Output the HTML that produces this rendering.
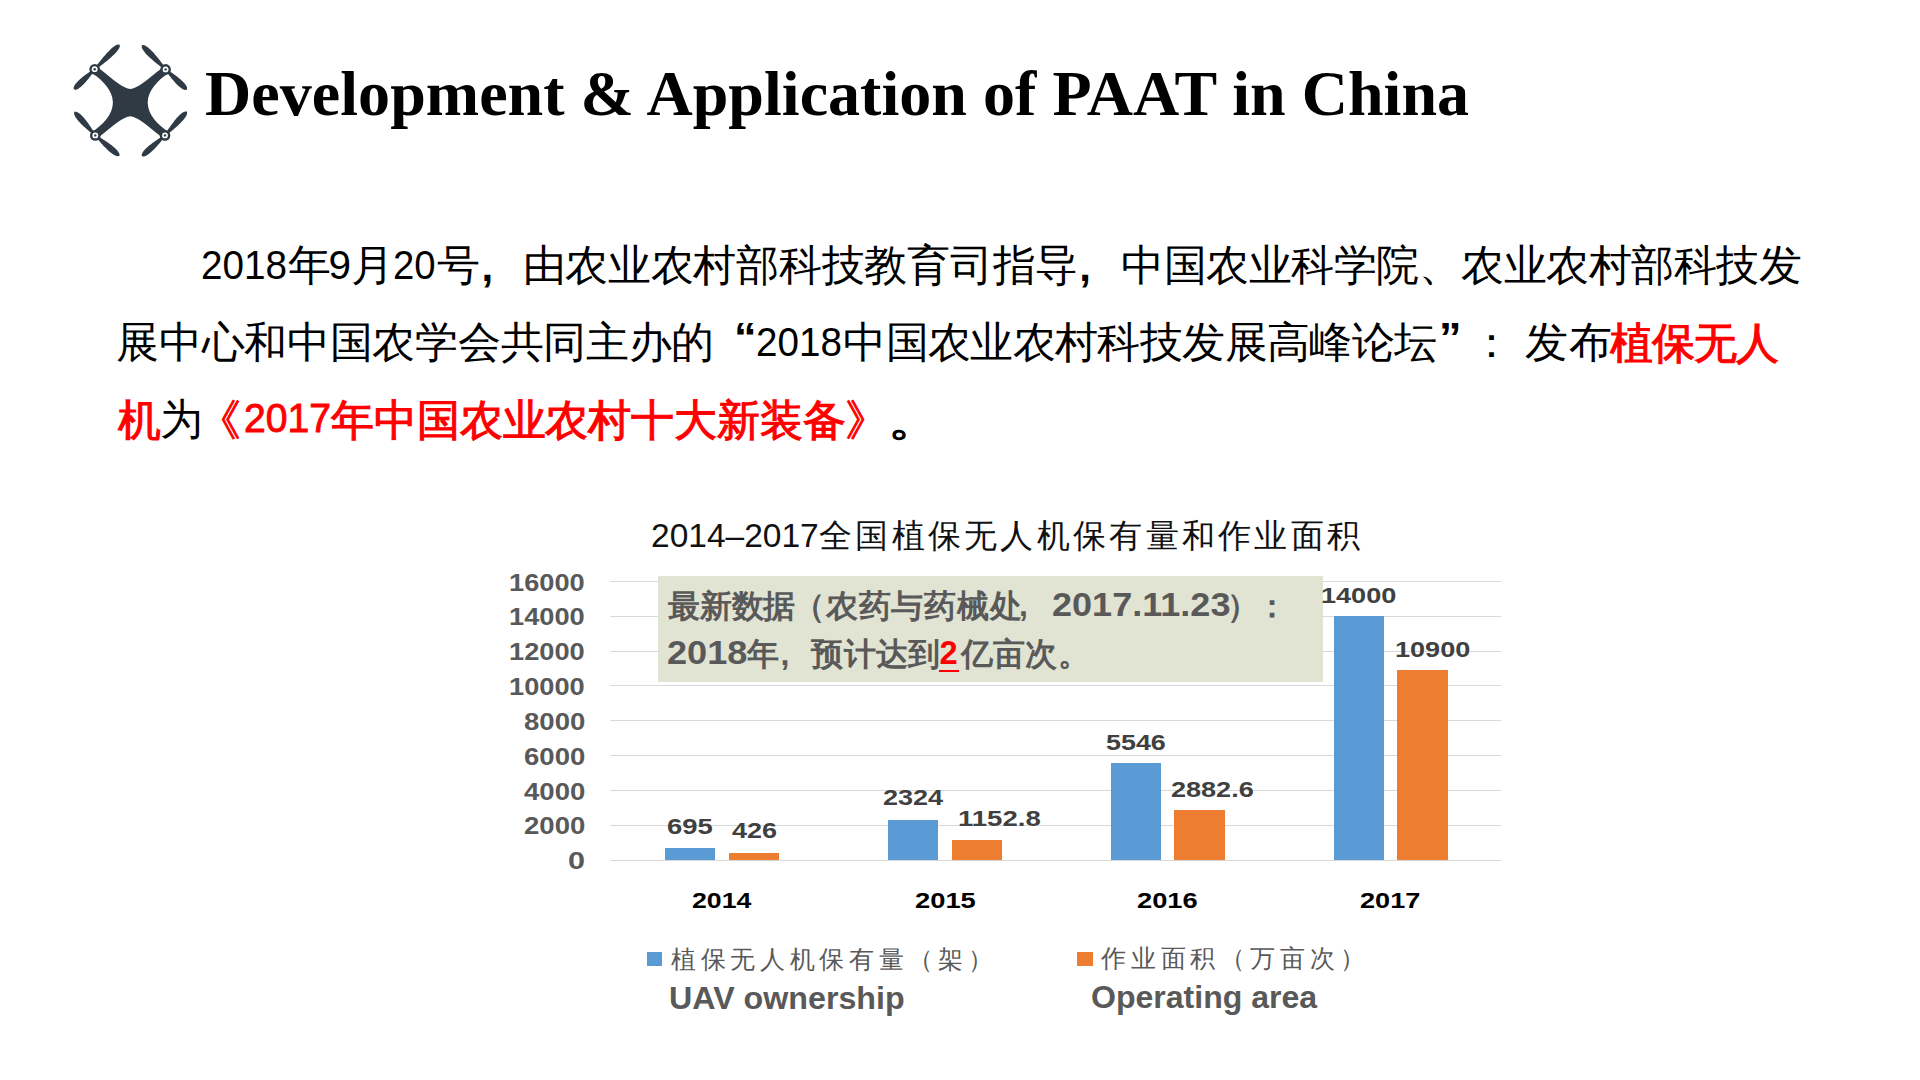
<!DOCTYPE html>
<html><head><meta charset="utf-8">
<style>
html,body{margin:0;padding:0;background:#fff;}
body{width:1920px;height:1080px;position:relative;overflow:hidden;font-family:"Liberation Sans",sans-serif;}
.a{position:absolute;white-space:nowrap;line-height:1;}
</style></head><body>
<svg style="position:absolute;left:0;top:0" width="200" height="170" viewBox="0 0 200 170">
<g fill="#2f3a44">
<path d="M94.70 69.20 L99.90 68.90 C113.00 79.40 124.00 88.90 130.30 88.90 C136.60 88.90 147.60 79.40 160.70 68.90 L165.60 69.40 L167.00 74.20 C158.60 80.00 147.70 90.00 147.70 102.60 C147.70 115.20 158.60 125.20 167.00 131.00 L165.00 135.40 L160.70 136.30 C147.60 125.80 136.60 116.30 130.30 116.30 C124.00 116.30 113.00 125.80 99.90 136.30 L95.30 135.40 L93.60 131.00 C102.00 125.20 112.90 115.20 112.90 102.60 C112.90 90.00 102.00 80.00 93.60 74.20 Z"/>
<path d="M95.4 69.9 96.3 69.1 97.3 68.3 98.3 67.5 99.3 66.7 100.3 66.0 101.3 65.2 102.3 64.4 103.3 63.7 104.3 62.9 105.3 62.1 106.3 61.4 107.3 60.6 108.2 59.8 109.2 59.0 110.1 58.2 111.1 57.3 112.0 56.5 112.9 55.6 113.8 54.8 114.7 53.9 115.6 53.0 116.4 52.1 117.2 51.1 118.0 50.1 118.7 49.0 119.3 47.9 119.8 46.6 119.7 44.7 119.7 44.7 117.8 44.5 116.5 45.0 115.4 45.6 114.3 46.3 113.3 47.1 112.3 47.8 111.3 48.6 110.4 49.5 109.5 50.4 108.6 51.3 107.7 52.2 106.9 53.1 106.1 54.0 105.2 54.9 104.4 55.9 103.6 56.8 102.8 57.8 102.0 58.8 101.2 59.7 100.4 60.7 99.6 61.7 98.8 62.7 98.0 63.7 97.2 64.7 96.5 65.6 95.7 66.6 94.8 67.6 94.0 68.5Z"/>
<path d="M94.0 68.5 93.2 69.1 92.4 69.8 91.5 70.4 90.7 71.0 89.9 71.6 89.0 72.3 88.2 72.9 87.3 73.5 86.5 74.1 85.6 74.7 84.8 75.3 84.0 76.0 83.1 76.6 82.3 77.3 81.5 77.9 80.7 78.6 80.0 79.3 79.2 80.0 78.4 80.7 77.7 81.4 77.0 82.2 76.3 82.9 75.6 83.8 75.0 84.6 74.5 85.5 74.0 86.5 73.6 87.6 73.9 89.4 73.9 89.4 75.7 89.7 76.8 89.4 77.8 88.9 78.7 88.4 79.6 87.8 80.4 87.2 81.2 86.5 82.0 85.8 82.7 85.1 83.5 84.4 84.2 83.6 84.9 82.9 85.6 82.1 86.3 81.3 86.9 80.5 87.6 79.7 88.3 78.9 88.9 78.1 89.6 77.3 90.2 76.5 90.8 75.6 91.5 74.8 92.1 74.0 92.8 73.1 93.4 72.3 94.0 71.5 94.7 70.7 95.4 69.9Z"/>
<path d="M166.3 68.7 165.5 67.8 164.8 66.8 164.0 65.9 163.3 64.9 162.5 64.0 161.8 63.0 161.0 62.0 160.3 61.1 159.6 60.1 158.8 59.1 158.1 58.2 157.3 57.2 156.5 56.3 155.8 55.4 155.0 54.4 154.2 53.5 153.4 52.6 152.6 51.7 151.7 50.9 150.9 50.0 150.0 49.2 149.1 48.4 148.2 47.6 147.2 46.9 146.1 46.2 145.0 45.6 143.8 45.1 141.9 45.3 141.9 45.3 141.7 47.2 142.2 48.4 142.7 49.5 143.4 50.6 144.1 51.6 144.9 52.5 145.6 53.5 146.5 54.4 147.3 55.2 148.2 56.1 149.0 56.9 149.9 57.7 150.8 58.5 151.7 59.3 152.6 60.1 153.6 60.9 154.5 61.7 155.4 62.5 156.4 63.2 157.3 64.0 158.3 64.7 159.3 65.5 160.2 66.2 161.2 67.0 162.1 67.7 163.1 68.5 164.0 69.3 164.9 70.1Z"/>
<path d="M164.9 70.1 165.6 70.9 166.3 71.7 167.0 72.5 167.6 73.4 168.3 74.2 168.9 75.0 169.6 75.9 170.3 76.7 170.9 77.5 171.6 78.4 172.2 79.2 172.9 80.0 173.6 80.8 174.3 81.6 175.0 82.4 175.7 83.2 176.4 83.9 177.2 84.7 177.9 85.4 178.7 86.1 179.5 86.8 180.3 87.5 181.1 88.1 182.0 88.7 183.0 89.2 184.0 89.7 185.1 90.0 186.9 89.7 186.9 89.7 187.2 87.9 186.8 86.8 186.3 85.8 185.7 84.9 185.1 84.0 184.4 83.2 183.7 82.4 183.0 81.7 182.2 80.9 181.4 80.2 180.6 79.5 179.8 78.8 179.0 78.2 178.2 77.5 177.4 76.8 176.5 76.2 175.7 75.6 174.8 74.9 174.0 74.3 173.1 73.7 172.3 73.1 171.4 72.5 170.5 71.9 169.7 71.2 168.8 70.6 167.9 70.0 167.1 69.3 166.3 68.7Z"/>
<path d="M96.0 134.7 95.4 133.8 94.7 132.9 94.1 132.0 93.4 131.1 92.8 130.1 92.1 129.2 91.5 128.2 90.9 127.3 90.2 126.3 89.6 125.4 89.0 124.5 88.3 123.5 87.6 122.6 87.0 121.7 86.3 120.8 85.6 119.9 84.9 119.1 84.2 118.2 83.4 117.3 82.7 116.5 81.9 115.7 81.1 114.9 80.3 114.1 79.4 113.4 78.4 112.8 77.4 112.2 76.2 111.7 74.4 111.8 74.4 111.8 74.0 113.6 74.4 114.8 74.9 115.9 75.4 116.9 76.0 117.9 76.7 118.8 77.3 119.7 78.1 120.6 78.8 121.4 79.6 122.3 80.3 123.1 81.1 123.9 81.9 124.7 82.7 125.5 83.5 126.3 84.4 127.0 85.2 127.8 86.1 128.5 86.9 129.3 87.8 130.0 88.6 130.8 89.5 131.5 90.4 132.3 91.2 133.0 92.1 133.7 92.9 134.5 93.7 135.3 94.6 136.1Z"/>
<path d="M94.7 136.2 95.5 137.0 96.2 137.8 97.0 138.6 97.8 139.4 98.6 140.3 99.3 141.1 100.1 142.0 100.8 142.8 101.6 143.7 102.4 144.5 103.1 145.4 103.9 146.2 104.7 147.0 105.5 147.8 106.3 148.6 107.1 149.4 108.0 150.2 108.8 150.9 109.6 151.7 110.5 152.4 111.4 153.1 112.3 153.8 113.3 154.4 114.2 155.0 115.3 155.5 116.4 156.0 117.6 156.3 119.4 155.9 119.4 155.9 119.5 154.1 119.0 152.9 118.4 151.9 117.7 151.0 116.9 150.1 116.2 149.2 115.4 148.4 114.5 147.7 113.7 147.0 112.8 146.2 111.9 145.5 111.0 144.8 110.1 144.2 109.2 143.5 108.3 142.8 107.3 142.2 106.4 141.5 105.4 140.9 104.5 140.3 103.5 139.7 102.6 139.1 101.6 138.4 100.7 137.8 99.7 137.2 98.7 136.6 97.8 136.0 96.9 135.3 95.9 134.6Z"/>
<path d="M165.7 136.1 166.6 135.3 167.4 134.5 168.3 133.7 169.2 133.0 170.1 132.2 171.0 131.5 171.9 130.7 172.8 130.0 173.7 129.2 174.6 128.5 175.4 127.7 176.3 126.9 177.2 126.2 178.0 125.4 178.9 124.6 179.7 123.8 180.5 122.9 181.3 122.1 182.1 121.3 182.9 120.4 183.7 119.5 184.4 118.6 185.1 117.7 185.7 116.7 186.3 115.7 186.8 114.6 187.2 113.3 186.9 111.5 186.9 111.5 185.0 111.4 183.9 111.9 182.8 112.5 181.8 113.1 180.9 113.9 180.0 114.6 179.2 115.4 178.4 116.2 177.6 117.1 176.8 118.0 176.1 118.8 175.3 119.7 174.6 120.6 173.9 121.5 173.2 122.5 172.5 123.4 171.8 124.3 171.1 125.3 170.4 126.2 169.7 127.2 169.1 128.1 168.4 129.1 167.7 130.0 167.0 131.0 166.4 131.9 165.7 132.9 165.0 133.8 164.3 134.7Z"/>
<path d="M164.3 134.7 163.5 135.3 162.6 136.0 161.6 136.6 160.7 137.3 159.8 137.9 158.9 138.5 157.9 139.2 157.0 139.8 156.1 140.4 155.2 141.1 154.3 141.7 153.3 142.4 152.4 143.0 151.6 143.7 150.7 144.4 149.8 145.1 148.9 145.8 148.1 146.5 147.3 147.2 146.4 148.0 145.6 148.7 144.9 149.5 144.1 150.4 143.4 151.3 142.8 152.2 142.2 153.2 141.7 154.4 141.9 156.2 141.9 156.2 143.7 156.5 144.9 156.2 146.0 155.7 147.0 155.2 147.9 154.6 148.8 154.0 149.7 153.3 150.6 152.6 151.4 151.8 152.2 151.1 153.0 150.3 153.8 149.5 154.6 148.7 155.3 147.9 156.1 147.1 156.9 146.3 157.6 145.4 158.3 144.6 159.1 143.7 159.8 142.9 160.5 142.0 161.2 141.2 162.0 140.3 162.7 139.5 163.4 138.6 164.1 137.8 164.9 136.9 165.7 136.1Z"/>
<circle cx="94.7" cy="69.2" r="5.3"/>
<circle cx="165.6" cy="69.4" r="5.3"/>
<circle cx="95.3" cy="135.4" r="5.3"/>
<circle cx="165.0" cy="135.4" r="5.3"/>
</g><g fill="#fff">
<circle cx="94.7" cy="69.2" r="2.9"/>
<circle cx="165.6" cy="69.4" r="2.9"/>
<circle cx="95.3" cy="135.4" r="2.9"/>
<circle cx="165.0" cy="135.4" r="2.9"/>
</g><g fill="#2f3a44">
<circle cx="94.7" cy="69.2" r="1.2"/>
<circle cx="165.6" cy="69.4" r="1.2"/>
<circle cx="95.3" cy="135.4" r="1.2"/>
<circle cx="165.0" cy="135.4" r="1.2"/>
</g></svg>
<div class="a" style="left:610px;top:580.8px;width:891px;height:1px;background:#d9d9d9"></div><div class="a" style="left:610px;top:615.6px;width:891px;height:1px;background:#d9d9d9"></div><div class="a" style="left:610px;top:650.5px;width:891px;height:1px;background:#d9d9d9"></div><div class="a" style="left:610px;top:685.3px;width:891px;height:1px;background:#d9d9d9"></div><div class="a" style="left:610px;top:720.1px;width:891px;height:1px;background:#d9d9d9"></div><div class="a" style="left:610px;top:755.0px;width:891px;height:1px;background:#d9d9d9"></div><div class="a" style="left:610px;top:789.9px;width:891px;height:1px;background:#d9d9d9"></div><div class="a" style="left:610px;top:824.7px;width:891px;height:1px;background:#d9d9d9"></div><div class="a" style="left:610px;top:859.5px;width:891px;height:1px;background:#d9d9d9"></div>
<div class="a" style="left:664.8px;top:847.9px;width:50.3px;height:12.1px;background:#5b9bd5"></div><div class="a" style="left:728.6px;top:852.6px;width:50.3px;height:7.4px;background:#ed7d31"></div><div class="a" style="left:887.7px;top:819.6px;width:50.3px;height:40.5px;background:#5b9bd5"></div><div class="a" style="left:951.5px;top:840.0px;width:50.3px;height:20.1px;background:#ed7d31"></div><div class="a" style="left:1110.6px;top:763.4px;width:50.3px;height:96.6px;background:#5b9bd5"></div><div class="a" style="left:1174.4px;top:809.8px;width:50.3px;height:50.2px;background:#ed7d31"></div><div class="a" style="left:1333.5px;top:616.1px;width:50.3px;height:243.9px;background:#5b9bd5"></div><div class="a" style="left:1397.3px;top:670.1px;width:50.3px;height:189.9px;background:#ed7d31"></div>
<div class="a" style="left:658.2px;top:576.3px;width:664.6px;height:105.4px;background:#e1e3d3"></div>
<div class="a" style="left:939.2px;top:670.3px;width:19.7px;height:2px;background:#f00"></div>
<div class="a" style="left:647px;top:952px;width:15px;height:14px;background:#5b9bd5"></div>
<div class="a" style="left:1077px;top:952px;width:16px;height:14px;background:#ed7d31"></div>
<div class="a" style="left:205.1px;top:62.2px;font-family:'Liberation Serif',serif;font-weight:bold;font-size:64px;color:#000;letter-spacing:0.04px">Development &amp; Application of PAAT in China</div>
<div class="a" style="left:201.0px;top:245.2px;font-size:40.5px;color:#000;transform:scaleX(0.9553);transform-origin:0 0">2018</div>
<div class="a" style="left:287.6px;top:244.6px;font-size:42.5px;color:#000">年</div>
<div class="a" style="left:328.4px;top:245.2px;font-size:40.5px;color:#000">9</div>
<div class="a" style="left:350.9px;top:244.6px;font-size:42.5px;color:#000">月</div>
<div class="a" style="left:393.3px;top:245.2px;font-size:40.5px;color:#000;transform:scaleX(0.9450);transform-origin:0 0">20</div>
<div class="a" style="left:437.1px;top:244.6px;font-size:42.5px;color:#000">号</div>
<div class="a" style="left:481.5px;top:246.0px;font-size:42px;color:#000;font-weight:bold">,</div>
<div class="a" style="left:522.6px;top:244.6px;font-size:42.5px;color:#000;letter-spacing:-0.28px">由农业农村部科技教育司指导</div>
<div class="a" style="left:1079.2px;top:245.7px;font-size:42px;color:#000;font-weight:bold">,</div>
<div class="a" style="left:1121.3px;top:244.6px;font-size:42.5px;color:#000;letter-spacing:-0.49px">中国农业科学院、农业农村部科技发</div>
<div class="a" style="left:116.3px;top:322.1px;font-size:42.5px;color:#000;letter-spacing:-0.30px">展中心和中国农学会共同主办的</div>
<div class="a" style="left:734.3px;top:317.0px;font-size:42px;color:#000;font-weight:bold;transform:scaleX(1.0714);transform-origin:0 0">“</div>
<div class="a" style="left:756.1px;top:321.8px;font-size:40.5px;color:#000;transform:scaleX(0.9529);transform-origin:0 0">2018</div>
<div class="a" style="left:843.3px;top:322.1px;font-size:42.5px;color:#000;letter-spacing:-0.64px">中国农业农村科技发展高峰论坛</div>
<div class="a" style="left:1438.8px;top:317.0px;font-size:42px;color:#000;font-weight:bold;transform:scaleX(1.0714);transform-origin:0 0">”</div>
<div class="a" style="left:1470.0px;top:322.1px;font-size:42.5px;color:#000">：</div>
<div class="a" style="left:1524.8px;top:322.1px;font-size:42.5px;color:#000;letter-spacing:0.80px">发布</div>
<div class="a" style="left:1610.4px;top:323.1px;font-size:42.5px;color:#f00;-webkit-text-stroke:1.1px #f00;letter-spacing:-1.13px">植保无人</div>
<div class="a" style="left:117.7px;top:400.2px;font-size:42.5px;color:#f00;-webkit-text-stroke:1.1px #f00">机</div>
<div class="a" style="left:159.5px;top:399.2px;font-size:42.5px;color:#000">为</div>
<div class="a" style="left:197.9px;top:400.2px;font-size:42.5px;color:#f00;-webkit-text-stroke:1.1px #f00">《</div>
<div class="a" style="left:243.9px;top:397.8px;font-size:40.5px;color:#f00;-webkit-text-stroke:0.9px #f00;transform:scaleX(0.9671);transform-origin:0 0">2017</div>
<div class="a" style="left:331.2px;top:400.2px;font-size:42.5px;color:#f00;-webkit-text-stroke:1.1px #f00;letter-spacing:-0.14px">年中国农业农村十大新装备</div>
<div class="a" style="left:845.0px;top:400.2px;font-size:42.5px;color:#f00;-webkit-text-stroke:1.1px #f00">》</div>
<div class="a" style="left:888.1px;top:400.2px;font-size:42.5px;color:#000;-webkit-text-stroke:1.2px #000;transform:scaleX(1.2222);transform-origin:0 0">。</div>
<div class="a" style="left:651.0px;top:519.8px;font-size:32.5px;color:#111;transform:scaleX(1.0310);transform-origin:0 0">2014–2017</div>
<div class="a" style="left:819.0px;top:519.6px;font-size:32.5px;color:#111;letter-spacing:3.29px">全国植保无人机保有量和作业面积</div>
<div class="a" style="left:509.1px;top:571.5px;font-size:23px;font-weight:bold;color:#595959;transform:scaleX(1.1833);transform-origin:0 0">16000</div>
<div class="a" style="left:509.1px;top:606.3px;font-size:23px;font-weight:bold;color:#595959;transform:scaleX(1.1833);transform-origin:0 0">14000</div>
<div class="a" style="left:509.1px;top:641.2px;font-size:23px;font-weight:bold;color:#595959;transform:scaleX(1.1833);transform-origin:0 0">12000</div>
<div class="a" style="left:509.1px;top:676.0px;font-size:23px;font-weight:bold;color:#595959;transform:scaleX(1.1833);transform-origin:0 0">10000</div>
<div class="a" style="left:523.8px;top:710.9px;font-size:23px;font-weight:bold;color:#595959;transform:scaleX(1.1979);transform-origin:0 0">8000</div>
<div class="a" style="left:523.8px;top:745.7px;font-size:23px;font-weight:bold;color:#595959;transform:scaleX(1.1979);transform-origin:0 0">6000</div>
<div class="a" style="left:523.8px;top:780.6px;font-size:23px;font-weight:bold;color:#595959;transform:scaleX(1.1979);transform-origin:0 0">4000</div>
<div class="a" style="left:523.8px;top:815.4px;font-size:23px;font-weight:bold;color:#595959;transform:scaleX(1.1979);transform-origin:0 0">2000</div>
<div class="a" style="left:567.9px;top:850.2px;font-size:23px;font-weight:bold;color:#595959;transform:scaleX(1.3300);transform-origin:0 0">0</div>
<div class="a" style="left:667.0px;top:816.8px;font-size:21.5px;font-weight:bold;color:#404040;transform:scaleX(1.2758);transform-origin:0 0">695</div>
<div class="a" style="left:731.7px;top:820.9px;font-size:21.5px;font-weight:bold;color:#404040;transform:scaleX(1.2559);transform-origin:0 0">426</div>
<div class="a" style="left:882.9px;top:787.8px;font-size:21.5px;font-weight:bold;color:#404040;transform:scaleX(1.2578);transform-origin:0 0">2324</div>
<div class="a" style="left:958.0px;top:808.6px;font-size:21.5px;font-weight:bold;color:#404040;transform:scaleX(1.2811);transform-origin:0 0">1152.8</div>
<div class="a" style="left:1106.2px;top:732.6px;font-size:21.5px;font-weight:bold;color:#404040;transform:scaleX(1.2500);transform-origin:0 0">5546</div>
<div class="a" style="left:1170.7px;top:779.5px;font-size:21.5px;font-weight:bold;color:#404040;transform:scaleX(1.2579);transform-origin:0 0">2882.6</div>
<div class="a" style="left:1320.5px;top:586.0px;font-size:21.5px;font-weight:bold;color:#404040;transform:scaleX(1.2589);transform-origin:0 0">14000</div>
<div class="a" style="left:1394.5px;top:639.5px;font-size:21.5px;font-weight:bold;color:#404040;transform:scaleX(1.2589);transform-origin:0 0">10900</div>
<div class="a" style="left:692.3px;top:890.3px;font-size:22px;font-weight:bold;color:#000;transform:scaleX(1.2128);transform-origin:0 0">2014</div>
<div class="a" style="left:914.6px;top:890.3px;font-size:22px;font-weight:bold;color:#000;transform:scaleX(1.2413);transform-origin:0 0">2015</div>
<div class="a" style="left:1137.4px;top:890.3px;font-size:22px;font-weight:bold;color:#000;transform:scaleX(1.2391);transform-origin:0 0">2016</div>
<div class="a" style="left:1360.1px;top:890.3px;font-size:22px;font-weight:bold;color:#000;transform:scaleX(1.2326);transform-origin:0 0">2017</div>
<div class="a" style="left:667.9px;top:590.2px;font-size:32px;font-weight:bold;color:#595959;letter-spacing:-0.17px">最新数据</div>
<div class="a" style="left:793.0px;top:590.2px;font-size:32px;font-weight:bold;color:#595959;letter-spacing:0.80px">（农药与药械处</div>
<div class="a" style="left:1019.0px;top:589.4px;font-size:32px;font-weight:bold;color:#595959">,</div>
<div class="a" style="left:1051.6px;top:589.1px;font-size:32.7px;font-weight:bold;color:#595959;transform:scaleX(1.1028);transform-origin:0 0">2017.11.23</div>
<div class="a" style="left:1227.0px;top:590.2px;font-size:32px;font-weight:bold;color:#595959;letter-spacing:-3.30px">）：</div>
<div class="a" style="left:667.4px;top:637.0px;font-size:32.7px;font-weight:bold;color:#595959;transform:scaleX(1.1058);transform-origin:0 0">2018</div>
<div class="a" style="left:746.6px;top:637.8px;font-size:32px;font-weight:bold;color:#595959">年</div>
<div class="a" style="left:780.5px;top:637.5px;font-size:32px;font-weight:bold;color:#595959">,</div>
<div class="a" style="left:811.3px;top:637.8px;font-size:32px;font-weight:bold;color:#595959;letter-spacing:0.23px">预计达到</div>
<div class="a" style="left:939.6px;top:637.0px;font-size:32.7px;font-weight:bold;color:#f00">2</div>
<div class="a" style="left:961.0px;top:637.8px;font-size:32px;font-weight:bold;color:#595959;letter-spacing:0.20px">亿亩次。</div>
<div class="a" style="left:670.9px;top:946.8px;font-size:25px;color:#595959;font-weight:300;letter-spacing:4.68px">植保无人机保有量（架）</div>
<div class="a" style="left:1101.0px;top:946.3px;font-size:25px;color:#595959;font-weight:300;letter-spacing:4.82px">作业面积（万亩次）</div>
<div class="a" style="left:668.8px;top:982.6px;font-size:31px;font-weight:bold;color:#595959;transform:scaleX(1.0392);transform-origin:0 0">UAV ownership</div>
<div class="a" style="left:1090.6px;top:981.8px;font-size:31px;font-weight:bold;color:#595959;transform:scaleX(1.0338);transform-origin:0 0">Operating area</div>
</body></html>
